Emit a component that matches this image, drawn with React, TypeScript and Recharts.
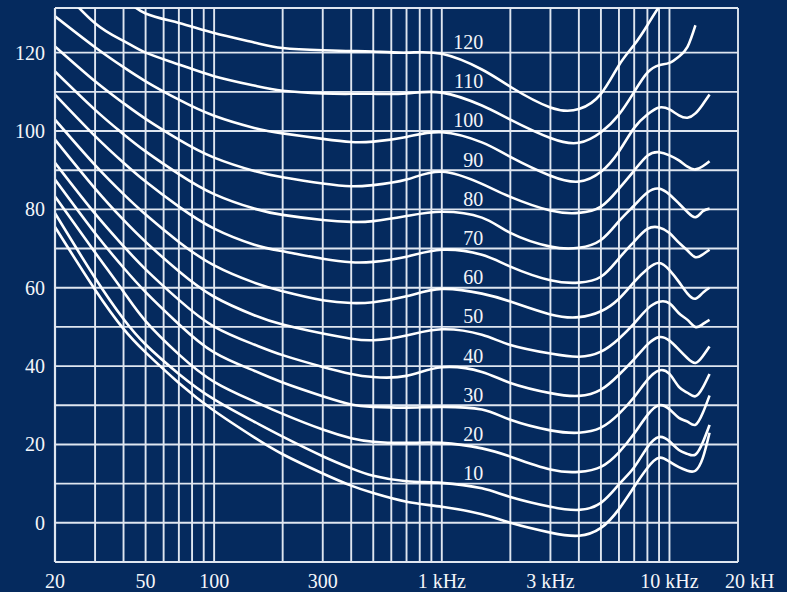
import { LineChart, Line, XAxis, YAxis, ReferenceLine, ReferenceDot } from "recharts";

// ---------------------------------------------------------------------------
// Data: equal-loudness contours (dB SPL per frequency), one array per phon level
// ---------------------------------------------------------------------------

const FREQS = [
  20, 30, 40, 50, 70, 100, 150, 200, 300, 400, 500, 700, 1000, 1500, 2000, 3000,
  4000, 5000, 6000, 7000, 8000, 9000, 10000, 11000, 12000, 13000, 14000, 15000,
];

const PHON_120 = [null, null, 134, 130, 127.6, 125, 122.6, 121.2, 120.6, 120.4, 120.3, 120, 119.7, 115.7, 111.3, 106, 105.6, 109.5, 116.8, 122, 127, 131.7, 135, null, null, null, null, null];
const PHON_110 = [138, 127.5, 123, 120, 117, 114, 111.6, 110.3, 109.6, 109.5, 109.5, 109.6, 109.8, 106.5, 102.9, 98.2, 97, 99.7, 104.2, 110, 114.9, 116.8, 117.4, 119, 121.5, 127, null, null];
const PHON_100 = [129.3, 121.4, 116.3, 112.7, 108, 103.9, 100.8, 99.4, 98, 97.2, 97.3, 98.5, 99.7, 97.1, 93.4, 88.6, 87.1, 89.6, 94.8, 100.8, 104.2, 106, 105.5, 104, 103.4, 104.5, 106.8, 109.3];
const PHON_90 = [121.6, 112.7, 107.1, 103.1, 97.8, 93.2, 89.8, 88.2, 86.6, 85.9, 86.2, 87.6, 89.6, 86.5, 83.2, 79.7, 79.1, 80.7, 85.3, 89.9, 93.7, 94.6, 93.8, 92.5, 90.9, 90.2, 91, 92.3];
const PHON_80 = [115.2, 105.4, 99.2, 94.8, 89, 83.9, 80.2, 78.6, 77.3, 76.8, 77, 78.3, 79.4, 77.9, 74, 70.5, 70.2, 72.2, 77, 81, 84.3, 85.3, 83.8, 81.5, 79.3, 78, 79.5, 80.2];
const PHON_70 = [109.3, 98.7, 91.9, 87.1, 80.7, 75.1, 71, 69.3, 67.4, 66.5, 66.6, 67.9, 69.7, 68.4, 65.4, 61.9, 61.3, 62.8, 67.5, 71.8, 75, 75.4, 74, 71.5, 69.5, 67.8, 68.5, 69.7];
const PHON_60 = [102.9, 91.3, 83.9, 78.7, 71.7, 65.7, 61.3, 59.1, 56.8, 56.1, 56.3, 57.8, 59.7, 58.5, 56.5, 53.2, 52.5, 54, 57.2, 61.5, 64.8, 66.3, 64.5, 61.5, 58.5, 57.2, 58.7, 60];
const PHON_50 = [97.8, 85.3, 77.3, 71.7, 64.2, 57.7, 53, 50.6, 48.3, 47, 46.6, 47.8, 49.4, 48, 45.4, 43.2, 42.4, 43.7, 47, 50.9, 54.6, 56.4, 56, 53.5, 51.8, 50, 50.7, 51.8];
const PHON_40 = [91.9, 78.9, 70.6, 64.7, 56.9, 50.1, 45.5, 42.8, 39.8, 38, 37.2, 37.5, 39.7, 38.5, 35.7, 33.1, 32.4, 34, 37.8, 41.8, 45.5, 47.4, 46.5, 44.2, 42, 40.8, 42.5, 45];
const PHON_30 = [87.6, 73.9, 65.1, 58.9, 50.7, 43.5, 38.8, 35.8, 32.3, 30.2, 29.6, 29.4, 29.6, 28.9, 26.3, 23.6, 23, 24.3, 27.8, 32.1, 36.5, 38.9, 38, 34.7, 33.2, 32.3, 34.5, 38];
const PHON_20 = [83.3, 69, 59, 51.5, 43, 36, 31, 27.8, 23.8, 21.6, 20.7, 20.4, 20.4, 19, 16.9, 13.6, 13, 14.3, 18, 22.8, 27.5, 30, 29, 26.8, 25.8, 25, 28, 32.5];
const PHON_10 = [79, 62.5, 52, 45.5, 38, 31.5, 25.8, 22, 17, 13.9, 12, 10.6, 10.2, 8.8, 6.6, 4.1, 3.3, 5.1, 9.8, 14.2, 19.3, 21.9, 20.8, 18.6, 17.6, 17.4, 20.5, 25];
const PHON_0 = [75.5, 59.5, 49.5, 43.5, 35.7, 28.6, 21.8, 17.5, 12.6, 9.5, 7.6, 5.4, 4.1, 2.2, 0, -2.5, -3.3, -1.3, 3.5, 9.2, 14, 16.6, 15.6, 14.2, 13.3, 13.3, 16.5, 23];

const CURVES = [
  { key: "p120", values: PHON_120 },
  { key: "p110", values: PHON_110 },
  { key: "p100", values: PHON_100 },
  { key: "p90", values: PHON_90 },
  { key: "p80", values: PHON_80 },
  { key: "p70", values: PHON_70 },
  { key: "p60", values: PHON_60 },
  { key: "p50", values: PHON_50 },
  { key: "p40", values: PHON_40 },
  { key: "p30", values: PHON_30 },
  { key: "p20", values: PHON_20 },
  { key: "p10", values: PHON_10 },
  { key: "p0", values: PHON_0 },
];

const CURVE_LABELS = [120, 110, 100, 90, 80, 70, 60, 50, 40, 30, 20, 10];

const X_TICKS = [20, 50, 100, 300, 1000, 3000, 10000, 20000];
const X_TICK_LABELS = ["20", "50", "100", "300", "1 kHz", "3 kHz", "10 kHz", "20 kH"];
const Y_TICKS = [0, 20, 40, 60, 80, 100, 120];

const GRID_FREQS = [
  30, 40, 50, 60, 70, 80, 90, 100, 200, 300, 400, 500, 600, 700, 800, 900, 1000,
  2000, 3000, 4000, 5000, 6000, 7000, 8000, 9000, 10000, 20000,
];
const GRID_DB = [0, 10, 20, 30, 40, 50, 60, 70, 80, 90, 100, 110, 120];

const Y_MIN = -10;
const Y_MAX = 131.4;

// ---------------------------------------------------------------------------
// Styles
// ---------------------------------------------------------------------------

const BG = "#052a5e";
const INK = "#f4f6fa";
const GRID = "#dfe6f0";
const FONT = "'Liberation Serif', 'DejaVu Serif', serif";
const FONT_SIZE = 20;

const rows = FREQS.map((f, i) => {
  const row: Record<string, number | null> = { f };
  CURVES.forEach((c) => {
    row[c.key] = c.values[i];
  });
  return row;
});

// ---------------------------------------------------------------------------
// Ticks
// ---------------------------------------------------------------------------

function XTick({ x, y, payload }: { x?: number; y?: number; payload?: { value: number } }) {
  const v = payload?.value ?? 0;
  const last = v === 20000;
  return (
    <text
      x={(x ?? 0) + (last ? -13 : 0)}
      y={(y ?? 0) + 26}
      textAnchor={last ? "start" : "middle"}
      fill={INK}
      fontSize={FONT_SIZE}
      fontFamily={FONT}
    >
      {X_TICK_LABELS[X_TICKS.indexOf(v)]}
    </text>
  );
}

function YTick({ x, y, payload }: { x?: number; y?: number; payload?: { value: number } }) {
  return (
    <text
      x={(x ?? 0) - 10}
      y={(y ?? 0) + 7}
      textAnchor="end"
      fill={INK}
      fontSize={FONT_SIZE}
      fontFamily={FONT}
    >
      {payload?.value}
    </text>
  );
}

// ---------------------------------------------------------------------------
// Component
// ---------------------------------------------------------------------------

export default function App() {
  return (
    <div style={{ position: "absolute", left: 0, top: 0, width: 787, height: 592, background: BG }}>
      <LineChart
        width={787}
        height={592}
        data={rows}
        margin={{ top: 8, right: 49, bottom: 0, left: 0 }}
      >
        <XAxis
          dataKey="f"
          type="number"
          scale="log"
          domain={[20, 20000]}
          ticks={X_TICKS}
          interval={0}
          allowDataOverflow
          height={30}
          tickSize={0}
          tickMargin={0}
          tickLine={false}
          axisLine={{ stroke: GRID, strokeWidth: 2.2 }}
          tick={<XTick />}
        />
        <YAxis
          type="number"
          domain={[Y_MIN, Y_MAX]}
          ticks={Y_TICKS}
          interval={0}
          allowDataOverflow
          width={55}
          tickSize={0}
          tickMargin={0}
          tickLine={false}
          axisLine={{ stroke: GRID, strokeWidth: 2.2 }}
          tick={<YTick />}
        />
        {GRID_DB.map((v) => (
          <ReferenceLine key={`h${v}`} y={v} stroke={GRID} strokeWidth={1.9} />
        ))}
        <ReferenceLine y={Y_MAX} stroke={GRID} strokeWidth={2.2} />
        {GRID_FREQS.map((v) => (
          <ReferenceLine key={`v${v}`} x={v} stroke={GRID} strokeWidth={1.9} />
        ))}
        {CURVES.map((c) => (
          <Line
            key={c.key}
            dataKey={c.key}
            type="natural"
            stroke="#ffffff"
            strokeWidth={2.6}
            dot={false}
            activeDot={false}
            isAnimationActive={false}
          />
        ))}
        {CURVE_LABELS.map((n) => (
          <ReferenceDot
            key={`l${n}`}
            x={1520}
            y={n + 2.7}
            r={0}
            shape={(p: { cx?: number; cy?: number }) => (
              <text
                x={p.cx}
                y={(p.cy ?? 0) + 7}
                textAnchor="end"
                fill={INK}
                fontSize={FONT_SIZE}
                fontFamily={FONT}
              >
                {n}
              </text>
            )}
          />
        ))}
      </LineChart>
    </div>
  );
}
